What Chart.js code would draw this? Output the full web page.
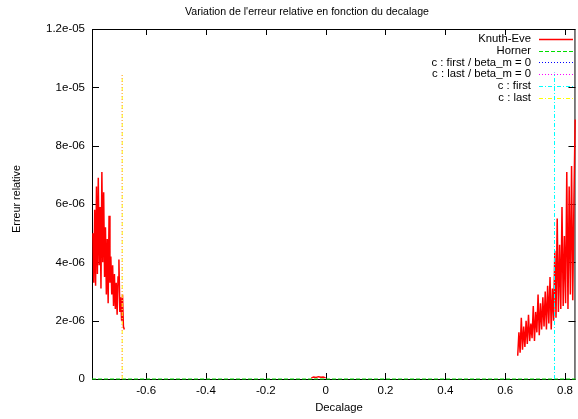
<!DOCTYPE html>
<html>
<head>
<meta charset="utf-8">
<script src="https://cdn.jsdelivr.net/npm/chart.js@4/dist/chart.umd.min.js"></script>
<style>
  html, body { margin: 0; padding: 0; background: #fff; }
  #wrap { width: 578px; height: 419px; position: relative; }
</style>
</head>
<body>
<div id="wrap"><canvas id="errChart"></canvas></div>
<script>
// values of the error are in units of 1e-6
const UNIT = 1e-6;

// Knuth-Eve : left cluster
const knuthLeftX = [-0.778, -0.775, -0.772, -0.769, -0.766, -0.763, -0.760, -0.757, -0.754, -0.751,
  -0.748, -0.745, -0.742, -0.739, -0.736, -0.733, -0.730, -0.727, -0.724, -0.721,
  -0.718, -0.715, -0.712, -0.709, -0.706, -0.703, -0.700, -0.697, -0.694, -0.691,
  -0.688, -0.685, -0.682, -0.679, -0.676, -0.673];
const knuthLeftY = [5.0, 3.3, 5.8, 3.2, 6.6, 3.6, 6.9, 3.9, 5.9, 3.1,
  7.1, 4.0, 6.4, 3.5, 5.2, 2.9, 4.8, 2.6, 5.6, 3.3,
  4.2, 2.9, 3.9, 2.5, 3.6, 2.4, 3.3, 2.2, 3.5, 4.1,
  2.3, 2.8, 2.0, 2.9, 1.8, 1.7];
// Knuth-Eve : tiny bump around 0
const knuthMidX = [-0.048, -0.040, -0.032, -0.024, -0.016, -0.008, 0.000];
const knuthMidY = [0.04, 0.07, 0.05, 0.08, 0.06, 0.07, 0.04];
// Knuth-Eve : right cluster
const knuthRightX = [0.642, 0.646, 0.650, 0.654, 0.658, 0.662, 0.666, 0.670, 0.674, 0.678,
  0.682, 0.686, 0.690, 0.694, 0.698, 0.702, 0.706, 0.710, 0.714, 0.718,
  0.722, 0.726, 0.730, 0.734, 0.738, 0.742, 0.746, 0.750, 0.754, 0.758,
  0.762, 0.766, 0.770, 0.774, 0.778, 0.782, 0.786, 0.790, 0.794, 0.798,
  0.802, 0.806, 0.810, 0.814, 0.818, 0.822, 0.826, 0.830, 0.834];
const knuthRightY = [0.8, 1.6, 0.9, 2.1, 1.0, 1.8, 1.1, 2.0, 1.2, 2.2,
  1.3, 1.9, 1.4, 2.5, 1.3, 2.3, 1.6, 2.9, 1.5, 2.6,
  1.7, 2.8, 1.8, 3.0, 1.7, 3.2, 1.9, 3.5, 1.7, 3.1,
  2.0, 4.4, 2.1, 5.5, 2.3, 4.6, 2.4, 5.9, 2.5, 4.9,
  2.6, 7.1, 2.4, 6.6, 2.9, 7.3, 2.7, 6.2, 8.9];

// Horner stays on zero
const hornerX = [-0.781, 0.835];
const hornerY = [0, 0];

// "c : first" spikes (with and without beta_m = 0)
const cFirstBetaX = [0.765, 0.765];
const cFirstBetaY = [0, 10.5];
const cFirstX = [0.765, 0.765];
const cFirstY = [0, 10.5];
// "c : last" spikes
const cLastBetaX = [-0.68, -0.68];
const cLastBetaY = [0, 10.43];
const cLastX = [-0.68, -0.68];
const cLastY = [0, 10.43];

const xTicks = [-0.6, -0.4, -0.2, 0, 0.2, 0.4, 0.6, 0.8];
const xTickLabels = ['-0.6', '-0.4', '-0.2', '0', '0.2', '0.4', '0.6', '0.8'];
const yTicks = [0, 2, 4, 6, 8, 10, 12];
const yTickLabels = ['0', '2e-06', '4e-06', '6e-06', '8e-06', '1e-05', '1.2e-05'];

function pts(xs, ys) {
  return xs.map((x, i) => ({ x: x, y: ys[i] * UNIT }));
}

const knuthData = pts(knuthLeftX, knuthLeftY)
  .concat([{ x: -0.4, y: null }])
  .concat(pts(knuthMidX, knuthMidY))
  .concat([{ x: 0.3, y: null }])
  .concat(pts(knuthRightX, knuthRightY));

const FONT = 'Liberation Sans, Arial, sans-serif';

// gnuplot-like frame: box, inward ticks, right-aligned key, labels
const gnuplotFrame = {
  id: 'gnuplotFrame',
  beforeDatasetsDraw(chart) {
    const ctx = chart.ctx;
    const a = chart.chartArea;
    const xs = chart.scales.x, ys = chart.scales.y;
    ctx.save();
    ctx.strokeStyle = '#000';
    ctx.lineWidth = 1;
    ctx.strokeRect(a.left + 0.5, a.top + 0.5, a.right - a.left - 1, a.bottom - a.top);
    ctx.beginPath();
    xTicks.forEach(v => {
      const px = Math.round(xs.getPixelForValue(v)) + 0.5;
      ctx.moveTo(px, a.bottom); ctx.lineTo(px, a.bottom - 6);
      ctx.moveTo(px, a.top); ctx.lineTo(px, a.top + 6);
    });
    yTicks.forEach(v => {
      const py = Math.round(ys.getPixelForValue(v * UNIT)) + 0.5;
      ctx.moveTo(a.left, py); ctx.lineTo(a.left + 7, py);
      ctx.moveTo(a.right, py); ctx.lineTo(a.right - 7, py);
    });
    ctx.stroke();

    // key
    ctx.font = '11.3px ' + FONT;
    ctx.textAlign = 'right';
    ctx.textBaseline = 'middle';
    chart.data.datasets.forEach((ds, i) => {
      const y = 39 + i * 11.7;
      ctx.fillStyle = '#000';
      ctx.fillText(ds.label, 531, y);
      ctx.strokeStyle = ds.borderColor;
      ctx.lineWidth = ds.borderWidth;
      ctx.setLineDash(ds.borderDash || []);
      ctx.beginPath();
      ctx.moveTo(539, Math.round(y) + 0.5);
      ctx.lineTo(573, Math.round(y) + 0.5);
      ctx.stroke();
    });
    ctx.setLineDash([]);

    // title and axis labels
    ctx.fillStyle = '#000';
    ctx.textAlign = 'center';
    ctx.font = '10.6px ' + FONT;
    ctx.fillText("Variation de l'erreur relative en fonction du decalage", 307, 12);
    ctx.font = '11.3px ' + FONT;
    ctx.fillText('Decalage', 339, 408);
    ctx.translate(17, 199);
    ctx.rotate(-Math.PI / 2);
    ctx.font = '10.8px ' + FONT;
    ctx.fillText('Erreur relative', 0, 0);
    ctx.restore();
  }
};

const ctx = document.getElementById('errChart').getContext('2d');
const errChart = new Chart(ctx, {
  type: 'line',
  data: {
    datasets: [
      { label: 'Knuth-Eve', data: knuthData, borderColor: '#ff0000', borderWidth: 1.5, order: 6 },
      { label: 'Horner', data: pts(hornerX, hornerY), borderColor: '#00dd00', borderWidth: 1.2, borderDash: [4, 2], order: 5 },
      { label: 'c : first / beta_m = 0', data: pts(cFirstBetaX, cFirstBetaY), borderColor: '#0000ff', borderWidth: 1, borderDash: [1, 2], order: 4 },
      { label: 'c : last / beta_m = 0', data: pts(cLastBetaX, cLastBetaY), borderColor: '#ff00ff', borderWidth: 1, borderDash: [1, 2], order: 3 },
      { label: 'c : first', data: pts(cFirstX, cFirstY), borderColor: '#00ffff', borderWidth: 1, borderDash: [4, 2, 1, 2], order: 2 },
      { label: 'c : last', data: pts(cLastX, cLastY), borderColor: '#ffff00', borderWidth: 1, borderDash: [4, 2, 1, 2], order: 1 },
    ]
  },
  options: {
    responsive: true,
    maintainAspectRatio: false,
    animation: false,
    events: [],
    spanGaps: false,
    elements: {
      point: { radius: 0 },
      line: { tension: 0, fill: false }
    },
    datasets: { line: { clip: false } },
    layout: { padding: { top: 29, right: 1, left: 0, bottom: 0 } },
    scales: {
      x: {
        type: 'linear',
        min: -0.781,
        max: 0.835,
        grid: { display: false, drawTicks: false },
        border: { display: false },
        afterBuildTicks: s => { s.ticks = xTicks.map(v => ({ value: v })); },
        afterFit: s => { s.height = 40; },
        ticks: {
          padding: 5,
          color: '#000',
          font: { family: FONT, size: 11.5 },
          maxRotation: 0,
          autoSkip: false,
          callback: (v) => xTickLabels[xTicks.indexOf(v)]
        }
      },
      y: {
        type: 'linear',
        min: 0,
        max: 12 * UNIT,
        grid: { display: false, drawTicks: false },
        border: { display: false },
        afterBuildTicks: s => { s.ticks = yTicks.map(v => ({ value: v * UNIT })); },
        afterFit: s => { s.width = 92; },
        ticks: {
          padding: 7,
          color: '#000',
          font: { family: FONT, size: 11.5 },
          autoSkip: false,
          callback: (v) => yTickLabels[yTicks.findIndex(t => Math.abs(t * UNIT - v) < 1e-9)]
        }
      }
    },
    plugins: {
      legend: { display: false },
      title: { display: false },
      tooltip: { enabled: false }
    }
  },
  plugins: [gnuplotFrame]
});
</script>
</body>
</html>
